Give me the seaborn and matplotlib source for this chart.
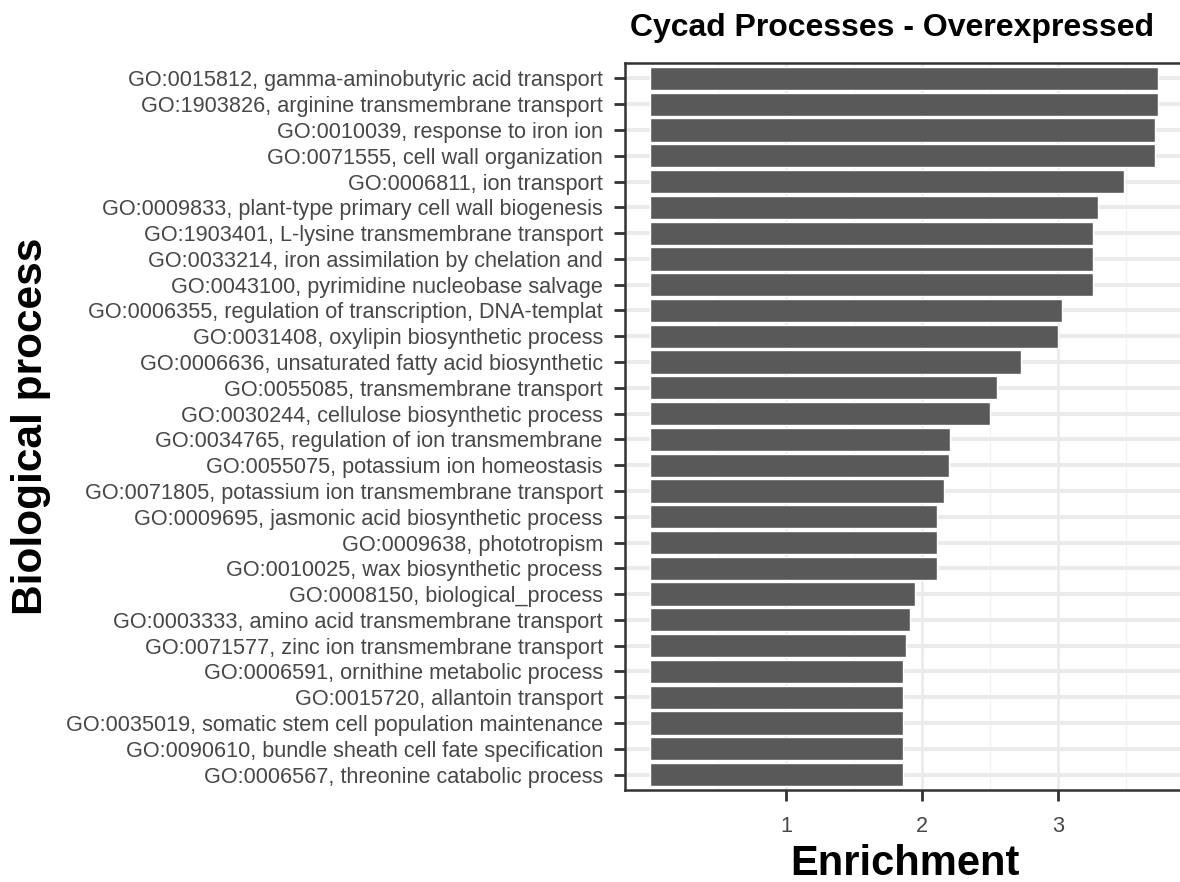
import matplotlib
matplotlib.use("Agg")
import matplotlib.pyplot as plt
import seaborn as sns
import pandas as pd

# GO biological-process terms, ordered top to bottom
terms = [
    "GO:0015812, gamma-aminobutyric acid transport",
    "GO:1903826, arginine transmembrane transport",
    "GO:0010039, response to iron ion",
    "GO:0071555, cell wall organization",
    "GO:0006811, ion transport",
    "GO:0009833, plant-type primary cell wall biogenesis",
    "GO:1903401, L-lysine transmembrane transport",
    "GO:0033214, iron assimilation by chelation and",
    "GO:0043100, pyrimidine nucleobase salvage",
    "GO:0006355, regulation of transcription, DNA-templat",
    "GO:0031408, oxylipin biosynthetic process",
    "GO:0006636, unsaturated fatty acid biosynthetic",
    "GO:0055085, transmembrane transport",
    "GO:0030244, cellulose biosynthetic process",
    "GO:0034765, regulation of ion transmembrane",
    "GO:0055075, potassium ion homeostasis",
    "GO:0071805, potassium ion transmembrane transport",
    "GO:0009695, jasmonic acid biosynthetic process",
    "GO:0009638, phototropism",
    "GO:0010025, wax biosynthetic process",
    "GO:0008150, biological_process",
    "GO:0003333, amino acid transmembrane transport",
    "GO:0071577, zinc ion transmembrane transport",
    "GO:0006591, ornithine metabolic process",
    "GO:0015720, allantoin transport",
    "GO:0035019, somatic stem cell population maintenance",
    "GO:0090610, bundle sheath cell fate specification",
    "GO:0006567, threonine catabolic process",
]

# Enrichment score per term
enrichment = [
    3.74, 3.74, 3.72, 3.72, 3.49, 3.30, 3.26, 3.26, 3.26, 3.03,
    3.00, 2.73, 2.55, 2.50, 2.21, 2.20, 2.16, 2.11, 2.11, 2.11,
    1.95, 1.91, 1.88, 1.86, 1.86, 1.86, 1.86, 1.86,
]

x_ticks = [1, 2, 3]
x_minor = [0.5, 1.5, 2.5, 3.5]

title = "Cycad Processes - Overexpressed"
x_title = "Enrichment"
y_title = "Biological process"

df = pd.DataFrame({"term": terms, "enrichment": enrichment})

sns.set_theme(style="white")
plt.rcParams["font.family"] = ["Liberation Sans", "DejaVu Sans"]

W, H = 1180, 882
fig = plt.figure(figsize=(W / 100, H / 100), dpi=100)

# panel placement in pixels
px_left, px_right, px_top, px_bottom = 625, 1184, 63, 790
ax = fig.add_axes([
    px_left / W,
    (H - px_bottom) / H,
    (px_right - px_left) / W,
    (px_bottom - px_top) / H,
])
ax.set_facecolor("white")

sns.barplot(
    data=df, x="enrichment", y="term", orient="h",
    color="#595959", saturation=1, width=0.9, ax=ax,
)

ax.set_xlim(-0.187, 3.93)
ax.set_ylim(len(terms) - 0.4, -0.6)

ax.set_xticks(x_ticks)
ax.set_xticklabels([str(t) for t in x_ticks])
ax.set_xticks(x_minor, minor=True)

ax.set_axisbelow(True)
ax.yaxis.grid(True, which="major", color="#EBEBEB", linewidth=3.0)
ax.xaxis.grid(True, which="major", color="#EBEBEB", linewidth=2.0)
ax.xaxis.grid(True, which="minor", color="#F2F2F2", linewidth=1.0)

for side in ["left", "top", "bottom"]:
    ax.spines[side].set_visible(True)
    ax.spines[side].set_color("#333333")
    ax.spines[side].set_linewidth(1.8)
ax.spines["right"].set_visible(False)

ax.tick_params(axis="both", which="major", length=8, width=2.0,
               color="#333333", labelcolor="#474747", labelsize=15.6,
               left=True, bottom=True)
ax.tick_params(axis="y", which="major", pad=8)
ax.tick_params(axis="x", which="major", pad=11)
ax.tick_params(axis="both", which="minor", length=0)

ax.set_xlabel(x_title, fontsize=30, fontweight="bold", color="black")
ax.xaxis.label.set_va("baseline")
ax.xaxis.set_label_coords(0.5, (7 - (H - px_bottom)) / (px_bottom - px_top))

ax.set_ylabel(y_title, fontsize=30.5, fontweight="bold", color="black")
ax.yaxis.label.set_va("baseline")
ax.yaxis.set_label_coords((42 - px_left) / (px_right - px_left), 0.5)

fig.text(630 / W, 1 - 28 / H, title, ha="left", va="center",
         fontsize=23, fontweight="bold", color="black")

fig.savefig("out.png", dpi=100)
